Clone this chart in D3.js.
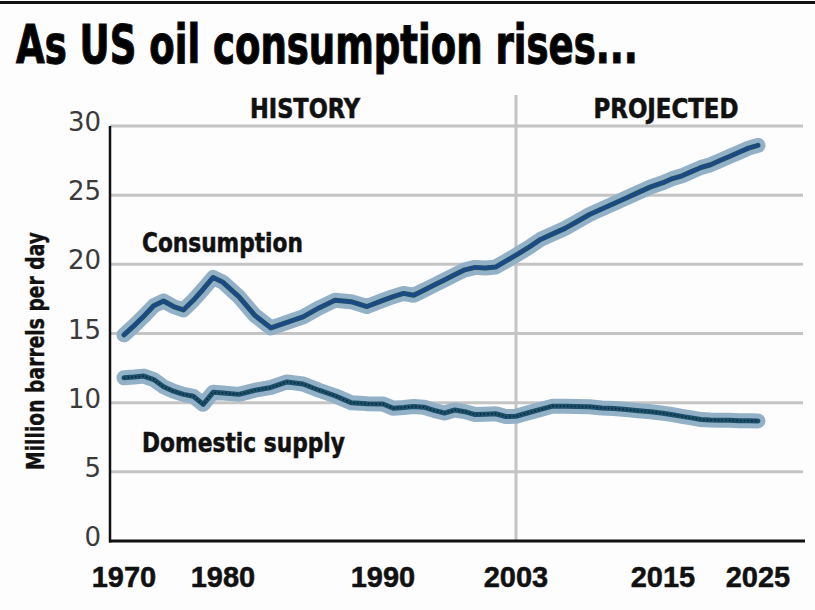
<!DOCTYPE html>
<html>
<head>
<meta charset="utf-8">
<script src="https://cdn.jsdelivr.net/npm/d3@7"></script>
<style>
  html, body { margin: 0; padding: 0; background: #fdfdfd; }
  svg { display: block; }
</style>
</head>
<body>
<svg id="chart" width="815" height="610"></svg>
<script>
// ---- data ----
const years = d3.range(1970, 2026);
const consumption = [
  14.9, 15.55, 16.25, 17.0, 17.35, 16.95, 16.7, 17.4, 18.2, 19.05,
  18.7, 17.65, 16.3, 15.4, 15.8, 16.2, 16.85, 17.4, 17.3, 16.95,
  17.4, 17.67, 17.9, 17.76, 18.13, 18.5, 18.87, 19.24, 19.6, 19.78,
  19.73, 19.8, 20.23, 20.66,
  21.2, 21.8, 22.2, 22.6, 23.1, 23.6, 24.0, 24.4, 24.8, 25.2, 25.6, 25.9,
  26.2, 26.4, 26.7, 27.0, 27.2, 27.5, 27.8, 28.1, 28.4, 28.6
];
const domestic = [
  11.8, 11.85, 11.92, 11.67, 11.15, 10.83, 10.6, 10.46, 9.88, 10.75,
  10.7, 10.6, 10.9, 11.1, 11.5, 11.35, 10.9, 10.5, 10.0, 9.93,
  9.9, 9.6, 9.65, 9.72, 9.67, 9.44, 9.25, 9.47, 9.35, 9.14,
  9.17, 9.2, 9.0, 9.02,
  9.27, 9.51, 9.75, 9.74, 9.72, 9.7, 9.62, 9.58, 9.5, 9.42, 9.34, 9.24,
  9.13, 9.01, 8.9, 8.78, 8.74, 8.73, 8.72, 8.7, 8.69, 8.68
];
const xTickYears = [1970, 1980, 1990, 2003, 2015, 2025];
const yTicks = [0, 5, 10, 15, 20, 25, 30];
const dividerYear = 2003;
const titleText = "As US oil consumption rises...";
const yAxisTitle = "Million barrels per day";
const sectionLabels = ["HISTORY", "PROJECTED"];
const seriesLabels = ["Consumption", "Domestic supply"];

// ---- layout ----
const svg = d3.select("#chart");
const plotLeft = 110, plotRight = 803, plotTop = 126, plotBottom = 541;

const x = d3.scaleLinear()
  .domain([1970, 1980, 1990, 2003, 2015, 2025])
  .range([124, 223, 383, 516, 663, 758]);
const y = d3.scaleLinear().domain([0, 30]).range([plotBottom, plotTop]);

const condensed = "'Liberation Sans Narrow', 'DejaVu Sans Condensed', 'Liberation Sans', Arial, sans-serif";

// helper: bold condensed label fitted to a given width via a transform
function fittedText(txt, px, py, width, size, anchor, rotate, strokeW) {
  const t = svg.append("text")
    .attr("font-family", condensed)
    .attr("font-weight", "bold")
    .attr("font-size", size)
    .attr("fill", "#111")
    .attr("stroke", "#111").attr("stroke-width", strokeW)
    .attr("text-anchor", anchor)
    .text(txt);
  const w = t.node().getComputedTextLength();
  const sx = width / w;
  t.attr("transform", `translate(${px},${py})` + (rotate ? ` rotate(${rotate})` : "") + ` scale(${sx},1)`);
  return t;
}

// top rule
svg.append("rect").attr("x", 0).attr("y", 1).attr("width", 815).attr("height", 3).attr("fill", "#111");

// title
fittedText(titleText, 16, 63, 622, 54, "start", 0, 1.2).attr("fill", "#000");

// gridlines
const gGrid = svg.append("g");
gGrid.selectAll("line.h").data(yTicks.filter(d => d > 0)).join("line")
  .attr("x1", plotLeft).attr("x2", plotRight)
  .attr("y1", d => y(d)).attr("y2", d => y(d))
  .attr("stroke", "#c4c4c4").attr("stroke-width", 3);

// divider
gGrid.append("line")
  .attr("x1", x(dividerYear)).attr("x2", x(dividerYear))
  .attr("y1", 95).attr("y2", plotBottom)
  .attr("stroke", "#c4c4c4").attr("stroke-width", 3);

// y tick labels
svg.append("g").selectAll("text").data(yTicks).join("text")
  .attr("x", 101).attr("y", d => y(d) + 5)
  .attr("text-anchor", "end")
  .attr("font-family", "'DejaVu Sans', sans-serif")
  .attr("font-size", 26)
  .attr("fill", "#3a3a3a")
  .text(d => d);

// axes lines
svg.append("line").attr("x1", plotLeft).attr("x2", plotLeft)
  .attr("y1", plotTop).attr("y2", plotBottom + 1.5)
  .attr("stroke", "#111").attr("stroke-width", 2.5);
svg.append("line").attr("x1", plotLeft - 1).attr("x2", 805)
  .attr("y1", plotBottom).attr("y2", plotBottom)
  .attr("stroke", "#111").attr("stroke-width", 3);

// x tick labels
svg.append("g").selectAll("text").data(xTickYears).join("text")
  .attr("x", d => x(d)).attr("y", 587)
  .attr("text-anchor", "middle")
  .attr("font-family", "'Liberation Sans', Arial, sans-serif")
  .attr("font-weight", "bold")
  .attr("font-size", 29)
  .attr("fill", "#111")
  .attr("stroke", "#111").attr("stroke-width", 0.5)
  .text(d => d);

// y axis title
fittedText(yAxisTitle, 44, 351, 238, 24, "middle", -90, 0.4);

// section labels
fittedText(sectionLabels[0], 305, 118, 110, 27, "middle", 0, 0.6);
fittedText(sectionLabels[1], 666, 118, 145, 27, "middle", 0, 0.6);

// series labels
fittedText(seriesLabels[0], 142, 252, 161, 26, "start", 0, 0.5);
fittedText(seriesLabels[1], 142, 452, 203, 26, "start", 0, 0.5);

// lines
const line = d3.line().x((d, i) => x(years[i])).y(d => y(d)).curve(d3.curveLinear);
const series = [
  { values: consumption, dot: "#1f35e0" },
  { values: domestic, dot: "#0d2530" }
];
const gLines = svg.append("g");
series.forEach(s => {
  gLines.append("path").attr("d", line(s.values))
    .attr("fill", "none").attr("stroke", "#92b1c7").attr("stroke-width", 15)
    .attr("stroke-linecap", "round").attr("stroke-linejoin", "round");
});
series.forEach(s => {
  gLines.append("path").attr("d", line(s.values))
    .attr("fill", "none").attr("stroke", "#1c4f6c").attr("stroke-width", 5)
    .attr("stroke-linecap", "round").attr("stroke-linejoin", "round");
  gLines.append("path").attr("d", line(s.values))
    .attr("fill", "none").attr("stroke", s.dot).attr("stroke-width", 1.6)
    .attr("stroke-dasharray", "1.3,2.4")
    .attr("stroke-linejoin", "round");
});
</script>
</body>
</html>
